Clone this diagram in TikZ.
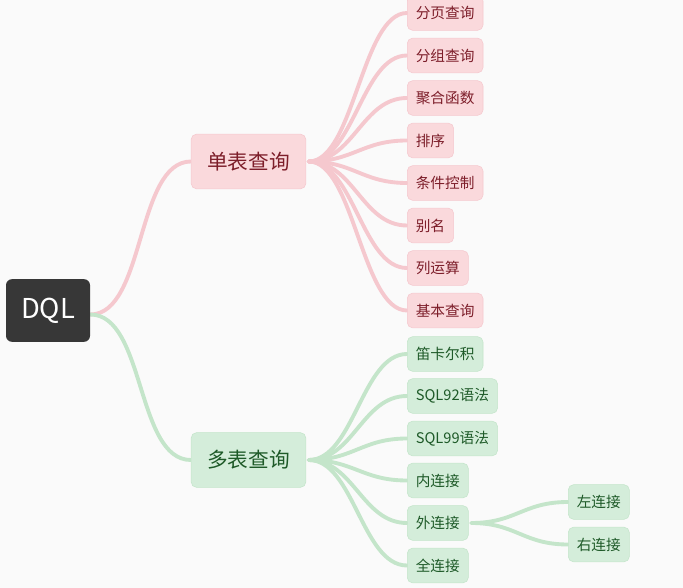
\documentclass[tikz,border=0pt]{standalone}
\usepackage{fontspec}
\setmainfont{Noto Sans CJK SC}
\usepackage{xcolor}
\definecolor{bgc}{RGB}{250,250,250}
\definecolor{rootfill}{RGB}{55,55,55}
\definecolor{pinkfill}{RGB}{250,217,220}
\definecolor{pinkline}{RGB}{245,200,206}
\definecolor{pinktext}{RGB}{125,30,42}
\definecolor{greenfill}{RGB}{212,237,218}
\definecolor{greenline}{RGB}{196,229,202}
\definecolor{greentext}{RGB}{30,90,40}
\usetikzlibrary{positioning,backgrounds}

\begin{document}
\begin{tikzpicture}[
    x=0.75pt, y=-0.75pt,
    rootbox/.style={fill=rootfill, rounded corners=4.5pt, minimum width=63pt, minimum height=47pt, text=white, font=\fontsize{20.5}{24}\selectfont},
    mainbox/.style={draw, rounded corners=4pt, minimum width=86pt, minimum height=41pt, inner xsep=11pt, font=\fontsize{15.5}{18}\selectfont},
    leafbox/.style={draw, rounded corners=4pt, minimum height=26pt, inner xsep=6.4pt, font=\fontsize{11}{13}\selectfont, anchor=west},
    pinkbox/.style={fill=pinkfill, draw=pinkline, text=pinktext},
    greenbox/.style={fill=greenfill, draw=greenline, text=greentext},
    link/.style={line width=2.9pt, line cap=round},
    pinklink/.style={link, draw=pinkline},
    greenlink/.style={link, draw=greenline}
  ]
  \useasboundingbox (0,0) rectangle (683,588);

  \node[rootbox] (dql) at (48,310.5) {DQL};
  \node[mainbox, pinkbox] (single) at (248.5,161.5) {单表查询};
  \node[mainbox, greenbox] (multi) at (248.5,460) {多表查询};

  % single-table leaves
  \node[leafbox, pinkbox] (page) at (407,13) {分页查询};
  \node[leafbox, pinkbox] (group) at (407,55.5) {分组查询};
  \node[leafbox, pinkbox] (agg) at (407,98) {聚合函数};
  \node[leafbox, pinkbox] (sort) at (407,140.5) {排序};
  \node[leafbox, pinkbox] (cond) at (407,183) {条件控制};
  \node[leafbox, pinkbox] (alias) at (407,225.5) {别名};
  \node[leafbox, pinkbox] (colop) at (407,268) {列运算};
  \node[leafbox, pinkbox] (basic) at (407,310.5) {基本查询};

  % multi-table leaves
  \node[leafbox, greenbox] (cart) at (407,354) {笛卡尔积};
  \node[leafbox, greenbox] (sql92) at (407,396) {SQL92语法};
  \node[leafbox, greenbox] (sql99) at (407,438.5) {SQL99语法};
  \node[leafbox, greenbox] (inner) at (407,480.5) {内连接};
  \node[leafbox, greenbox] (outer) at (407,523) {外连接};
  \node[leafbox, greenbox] (full) at (407,565.5) {全连接};
  \node[leafbox, greenbox] (left) at (568,502) {左连接};
  \node[leafbox, greenbox] (right) at (568,544.5) {右连接};

  \begin{pgfonlayer}{background}
    \fill[bgc] (0,0) rectangle (683,588);
    \draw[pinklink] ([yshift=-3pt]dql.east) .. controls +(55,0) and +(-55,0) .. (single.west);
    \draw[greenlink] ([yshift=-3pt]dql.east) .. controls +(55,0) and +(-55,0) .. (multi.west);

    \foreach \leaf in {page,group,agg,sort,cond,alias,colop,basic}
      \draw[pinklink] ([xshift=2pt]single.east) .. controls +(45,0) and +(-45,0) .. (\leaf.west);
    \foreach \leaf in {cart,sql92,sql99,inner,outer,full}
      \draw[greenlink] ([xshift=2pt]multi.east) .. controls +(45,0) and +(-45,0) .. (\leaf.west);
    \foreach \leaf in {left,right}
      \draw[greenlink] ([xshift=2pt]outer.east) .. controls +(45,0) and +(-45,0) .. (\leaf.west);
  \end{pgfonlayer}
\end{tikzpicture}
\end{document}
